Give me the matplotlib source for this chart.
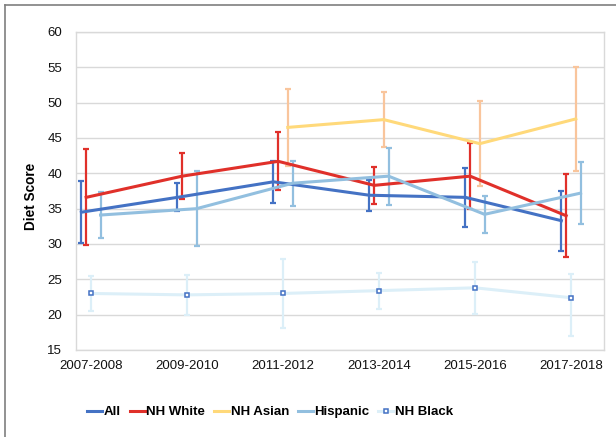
import numpy as np
import matplotlib
matplotlib.use('Agg')
import matplotlib.pyplot as plt
from matplotlib.lines import Line2D

plt.rcParams['font.family'] = ['Liberation Sans', 'DejaVu Sans']

# survey cycles
cycles = ['2007-2008', '2009-2010', '2011-2012', '2013-2014', '2015-2016', '2017-2018']

# mean diet score and error half-widths per group
all_mean = [34.5, 36.6, 38.8, 36.9, 36.6, 33.3]
all_err = [4.4, 2.0, 3.0, 2.2, 4.2, 4.25]

white_mean = [36.6, 39.6, 41.7, 38.3, 39.6, 34.0]
white_err = [6.8, 3.3, 4.1, 2.65, 4.7, 5.9]

asian_mean = [np.nan, np.nan, 46.5, 47.6, 44.2, 47.7]
asian_err = [0, 0, 5.5, 3.9, 6.0, 7.4]

hisp_mean = [34.1, 35.0, 38.6, 39.6, 34.2, 37.2]
hisp_err = [3.25, 5.3, 3.2, 4.05, 2.6, 4.4]

black_mean = [23.0, 22.8, 23.0, 23.4, 23.8, 22.4]
black_err_lo = [2.45, 2.8, 4.9, 2.55, 3.7, 5.4]
black_err_hi = [2.45, 2.8, 4.9, 2.55, 3.7, 3.3]

fig = plt.figure(figsize=(6.16, 4.37), dpi=100)
ax = fig.add_axes([76/616, 1-350/437, 528/616, 318/437])

x = np.arange(len(cycles))
lw = 2.2
ebar = dict(fmt='none', elinewidth=1.6, capsize=2, capthick=1.6)

series = [
    ('All', all_mean, all_err, -0.1, '#4472C4', '#4472C4'),
    ('NH White', white_mean, white_err, -0.05, '#E0302A', '#E0302A'),
    ('NH Asian', asian_mean, asian_err, 0.05, '#FFD97A', '#F9C59C'),
    ('Hispanic', hisp_mean, hisp_err, 0.1, '#92BFDF', '#92BFDF'),
]

handles = []
for name, m, e, off, col, ecol in series:
    ax.errorbar(x + off, m, yerr=e, ecolor=ecol, zorder=3, **ebar)
    h, = ax.plot(x + off, m, color=col, lw=lw, zorder=4, label=name)
    handles.append(h)

ax.errorbar(x, black_mean, yerr=[black_err_lo, black_err_hi], ecolor='#DCEFF8', zorder=2, **ebar)
h, = ax.plot(x, black_mean, color='#DCEFF8', lw=lw, marker='s', ms=3.4,
             mfc='white', mec='#4472C4', mew=1.1, zorder=2, label='NH Black')
handles.append(h)

ax.set_xlim(-0.156, 5.344)
ax.set_ylim(15, 60)
ax.set_yticks(np.arange(15, 61, 5))
ax.set_xticks(x)
ax.set_xticklabels(cycles)
ax.tick_params(length=0, labelsize=9.5, colors='#111111')
ax.tick_params(axis='y', pad=10)
ax.tick_params(axis='x', pad=7)
ax.grid(axis='y', color='#D9D9D9', lw=1)
ax.set_axisbelow(True)
for s in ax.spines.values():
    s.set_color('#D9D9D9')
    s.set_linewidth(1)

ax.set_ylabel('Diet Score', fontsize=9.8, fontweight='bold')
ax.yaxis.set_label_coords(-0.072, 0.484)

fig.legend(handles=handles, loc='center', bbox_to_anchor=(270/616, 1-412/437),
           ncol=5, frameon=False, handlelength=1.15, handletextpad=0.12,
           columnspacing=0.65, numpoints=1,
           prop={'weight': 'bold', 'size': 9.5})

# outer chart frame (left and top edges)
fig.add_artist(Line2D([5/616, 5/616], [0, 1-4.5/437], color='#7f7f7f', lw=1.2))
fig.add_artist(Line2D([5/616, 1], [1-4.5/437, 1-4.5/437], color='#7f7f7f', lw=1.2))

fig.savefig('out.png', dpi=100)
